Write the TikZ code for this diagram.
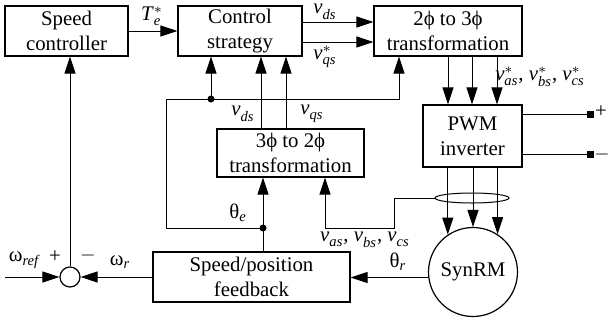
\documentclass[tikz,border=0pt]{standalone}
\usepackage{amsmath}
\usepackage{fontspec}
\setmainfont{Liberation Serif}
\usetikzlibrary{arrows.meta,shapes.geometric}
\newcommand{\sig}[3]{\textit{#1}$^{#3}_{\textit{#2}}$}

\begin{document}
\begin{tikzpicture}[x=0.5pt,y=-0.5pt,
	font=\fontsize{10.4}{12.5}\selectfont,
	block/.style={draw, line width=0.6pt, align=center, inner sep=0pt},
	arr/.style={-{Triangle[length=8.5pt,width=5.5pt]}, line width=0.5pt},
	wire/.style={line width=0.5pt},
	dot/.style={circle, fill=black, inner sep=0pt, minimum size=3.5pt},
	term/.style={rectangle, fill=black, inner sep=0pt, minimum size=3.5pt},
	lbl/.style={inner sep=0pt}]
	\useasboundingbox (0,0) rectangle (609,322);

	\node[block, minimum width=61.5pt, minimum height=25pt](speed) at (66.5,31){Speed\\controller};
	\node[block, minimum width=62pt, minimum height=25pt](control) at (240,31){Control\\strategy};
	\node[block, minimum width=74pt, minimum height=25pt](twothree) at (448,31){2ϕ to 3ϕ\\transformation};
	\node[block, minimum width=73.5pt, minimum height=24pt](threetwo) at (290.5,153){3ϕ to 2ϕ\\transformation};
	\node[block, minimum width=49.5pt, minimum height=31pt](pwm) at (472.5,136){PWM\\inverter};
	\node[block, minimum width=98.5pt, minimum height=25pt](feedback) at (251.5,277){Speed/position\\feedback};
	\node[block, circle, minimum size=44.5pt](motor) at (473,272){SynRM};
	\node[block, circle, minimum size=10pt](sum) at (70,277){};
	\node[draw, ellipse, line width=0.5pt, minimum width=37pt, minimum height=5pt, inner sep=0pt](ring) at (472,198){};

	\coordinate (je) at (263,228);
	\coordinate (jd) at (211,99);
	\coordinate (bl) at (166,99);
	\coordinate (br) at (399,99);
	\coordinate (xd) at (261,0);
	\coordinate (xq) at (286,0);
	\coordinate (vk) at (394,228);
	\coordinate (vm) at (325,228);
	\coordinate (tp) at (590,114);
	\coordinate (tm) at (590,154);
	\coordinate (in) at (5,277);

	% forward path
	\draw [arr] (speed) -- (control);
	\draw [arr] ([yshift=4.5pt]control.east) -- ([yshift=4.5pt]twothree.west);
	\draw [arr] ([yshift=-5.5pt]control.east) -- ([yshift=-5.5pt]twothree.west);
	\foreach \x in {448,472,497}
		\draw [arr] (twothree.south -| \x,0) -- (pwm.north -| \x,0);
	\foreach \a in {124.2,90,57.4}
		\draw [arr] (pwm.south -| motor.\a) -- (motor.\a);
	\draw [wire] (pwm.east |- tp) -- (tp);
	\draw [wire] (pwm.east |- tm) -- (tm);
	\node[term](tplus) at (tp){};
	\node[term](tminus) at (tm){};

	% feedback paths
	\draw [arr] (xd |- threetwo.north) -- (xd |- control.south);
	\draw [arr] (xq |- threetwo.north) -- (xq |- control.south);
	\draw [arr] (je |- feedback.north) -- (je |- threetwo.south);
	\draw [arr] (je) -- (je -| bl) -- (bl) -- (br) -- (br |- twothree.south);
	\draw [arr] (jd) -- (jd |- control.south);
	\node[dot](dote) at (je){};
	\node[dot](dotd) at (jd){};
	\draw [arr] (ring.west) -| (vk) -- (vm) -- (vm |- threetwo.south);
	\draw [arr] (motor.187) -- (motor.187 -| feedback.east);
	\draw [arr] (feedback) -- (sum);
	\draw [arr] (in) -- (sum);
	\draw [arr] (sum) -- (sum |- speed.south);

	% labels
	\node[lbl](te) at (152,16){\sig{T}{e}{*}};
	\node[lbl](vdsa) at (325,12){\sig{v}{ds}{}};
	\node[lbl](vqsa) at (325,57){\sig{v}{qs}{*}};
	\node[lbl](vdsb) at (243,114){\sig{v}{ds}{}};
	\node[lbl](vqsb) at (312,114){\sig{v}{qs}{}};
	\node[lbl](vref) at (540,77){\sig{v}{as}{*}, \sig{v}{bs}{*}, \sig{v}{cs}{*}};
	\node[lbl](vmeas) at (365,240){\sig{v}{as}{}, \sig{v}{bs}{}, \sig{v}{cs}{}};
	\node[lbl](thetae) at (238,213){θ$_{\textit{e}}$};
	\node[lbl](thetar) at (398,262){θ$_{\textit{r}}$};
	\node[lbl](wref) at (24,260){ω$_{\textit{ref}}$};
	\node[lbl](wr) at (120,262){ω$_{\textit{r}}$};
	\node[lbl](splus) at (55,257){+};
	\node[lbl](sminus) at (88,255){$-$};
	\node[lbl](dcplus) at (601,112){+};
	\node[lbl](dcminus) at (602,154){$-$};
\end{tikzpicture}
\end{document}
